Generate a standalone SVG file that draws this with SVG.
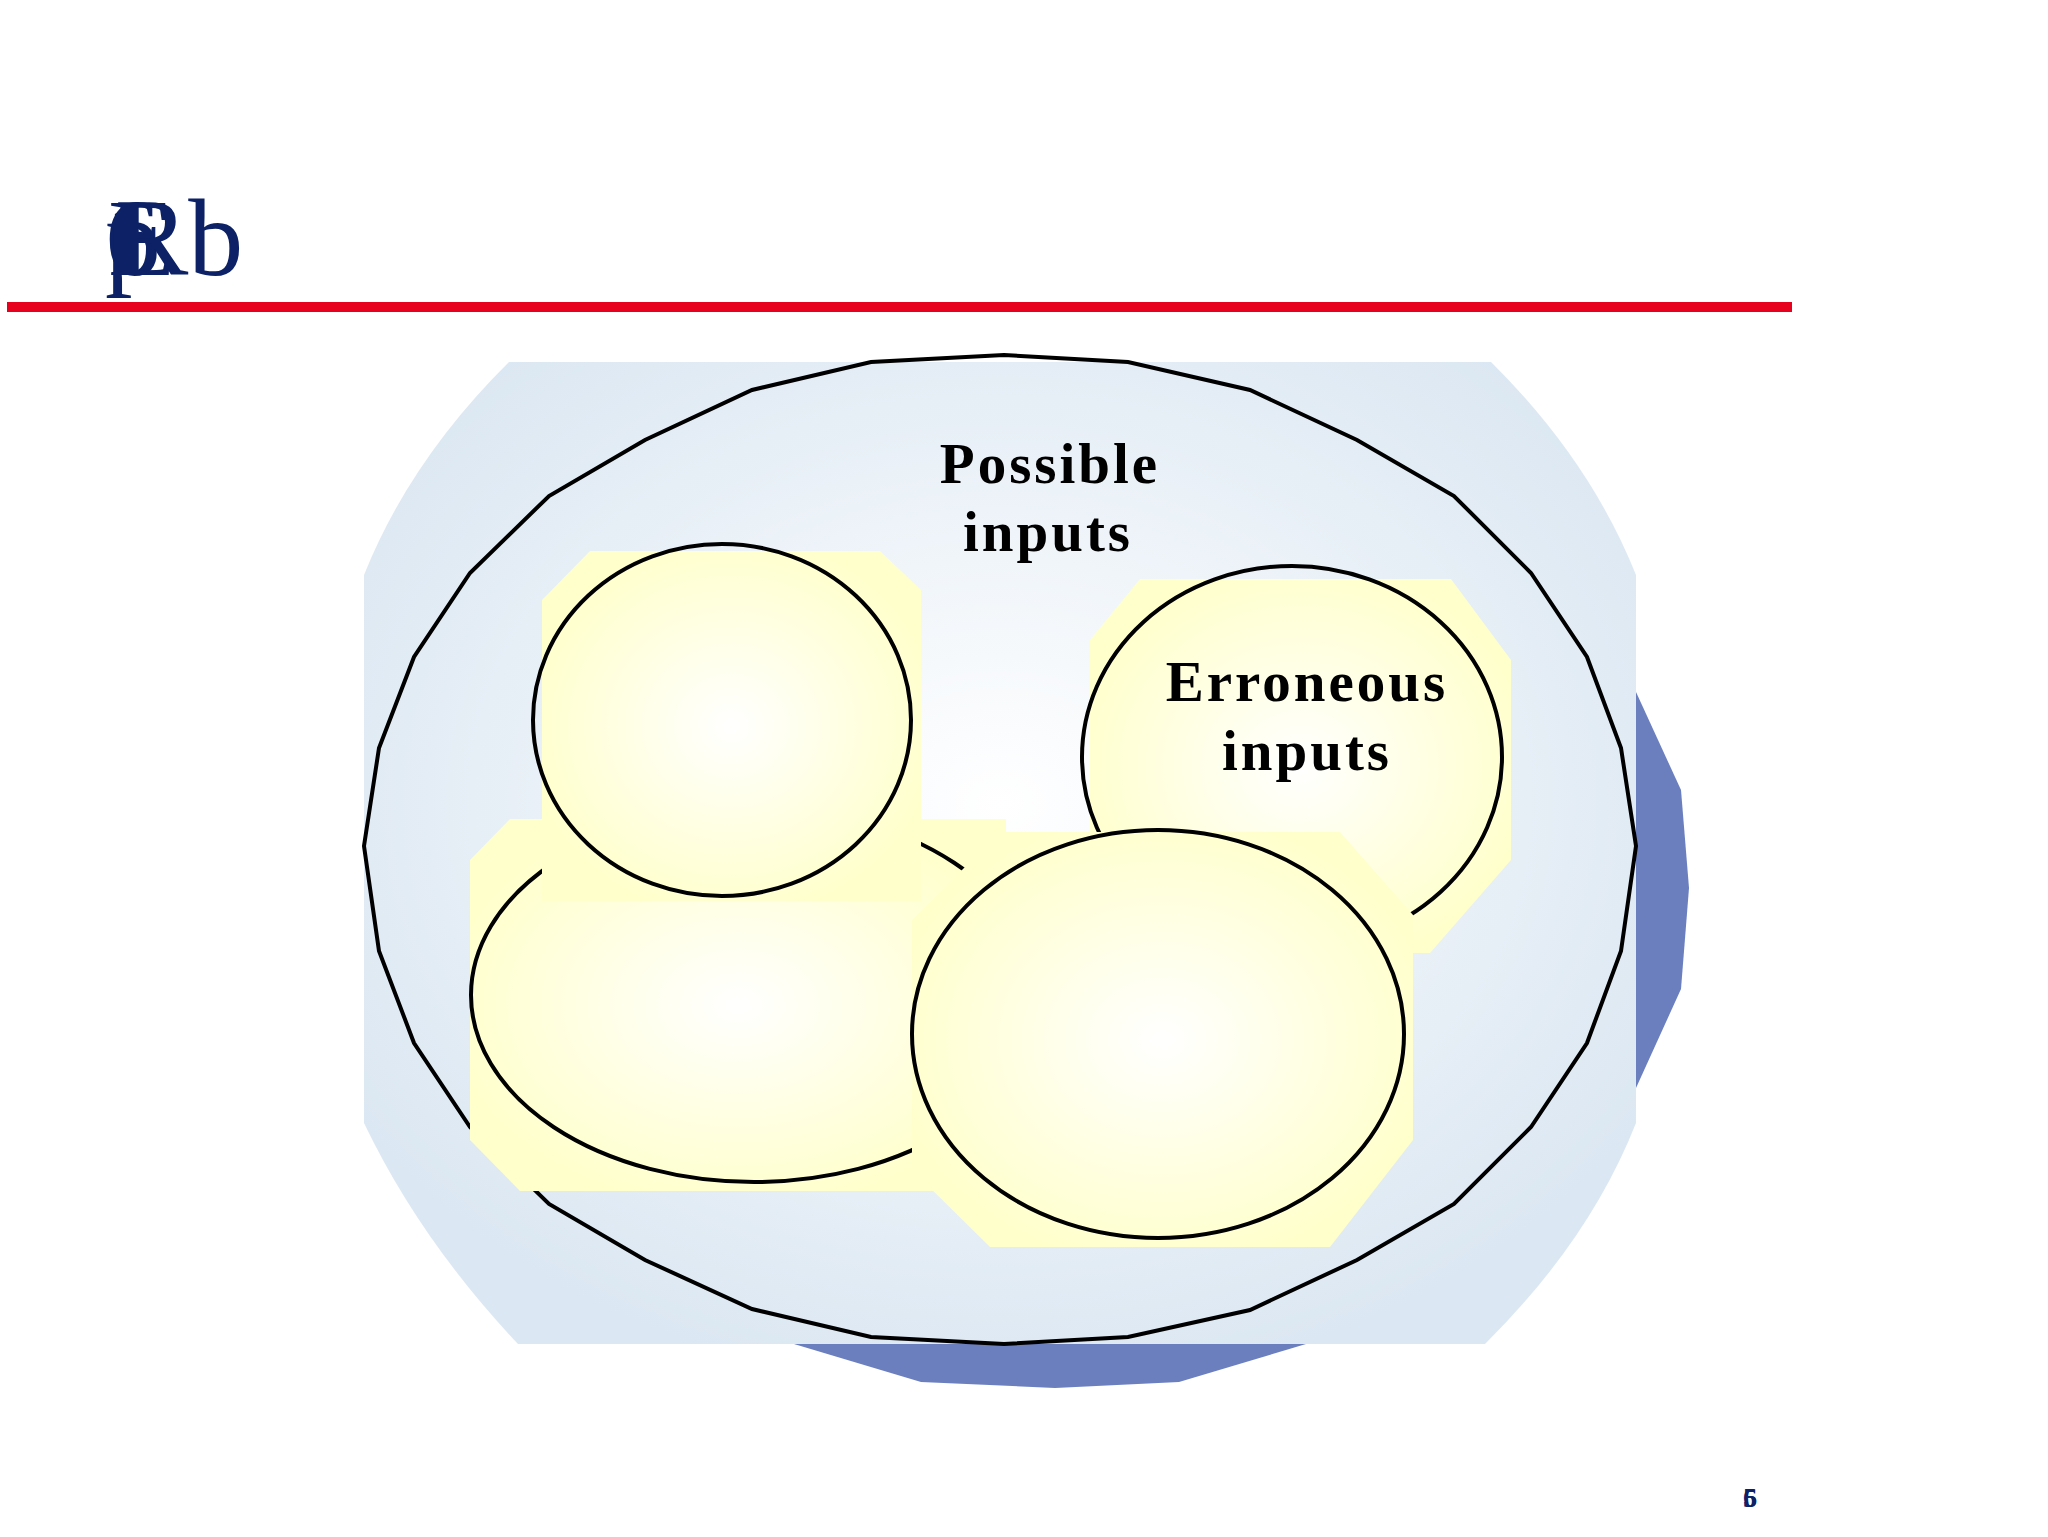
<svg xmlns="http://www.w3.org/2000/svg" width="2048" height="1537" viewBox="0 0 2048 1537">
<defs>
<radialGradient id="gb" cx="50%" cy="45%" r="60%"><stop offset="0" stop-color="#ffffff"/><stop offset="1" stop-color="#dbe7f2"/></radialGradient>
<radialGradient id="gy" cx="50%" cy="50%" r="55%"><stop offset="0" stop-color="#ffffff"/><stop offset="1" stop-color="#ffffcc"/></radialGradient>
<style>.o{fill:none;stroke:#000;stroke-width:4}.y{fill:url(#gy)}.t{font-family:"Liberation Serif",serif;font-weight:bold;font-size:57px;letter-spacing:3px;text-anchor:middle;fill:#000}.h{font-family:"Liberation Serif",serif;font-size:110px;fill:#0d2266}</style>
</defs>
<rect width="2048" height="1537" fill="#fff"/>
<g id="title"><text class="h" x="105" y="275">1</text><text class="h" x="105" y="275">6</text><text class="h" x="105" y="275">p</text><text class="h" x="108" y="275">E</text><text class="h" x="115" y="275">Rb</text></g>
<rect x="7" y="302" width="1785" height="10" fill="#e8001f"/>
<g id="possible">
<polygon points="794,1344 921,1382 1055,1388 1179,1382 1306,1344 1636,1088 1681,989 1689,888 1681,790 1636,692 1400,500 800,500" fill="#6b7fbf"/>
<path d="M509,362 H1491 Q1590,460 1636,575 V1123 Q1590,1240 1485,1344 H518 Q420,1240 364,1123 V575 Q410,460 509,362 Z" fill="url(#gb)"/>
<polygon class="o" points="1004,355 1128,362 1250,390 1357,440 1454,496 1531,573 1587,657 1621,748 1636,846 1621,951 1587,1043 1531,1127 1454,1204 1357,1260 1250,1310 1128,1337 1004,1344 871,1337 752,1309 645,1260 549,1204 470,1127 414,1043 379,951 364,846 379,748 414,657 470,573 549,496 645,440 752,390 871,362"/>
<text class="t" x="1050" y="483">Possible</text><text class="t" x="1048" y="551">inputs</text>
</g>
<g id="b"><path class="y" d="M470,860 L510,819 H1006 V1191 H520 L470,1140 Z"/><ellipse class="o" cx="754" cy="995" rx="283" ry="187"/></g>
<g id="a"><path class="y" d="M542,600 L590,551 H880 L921,590 V901 H542 Z"/><ellipse class="o" cx="722" cy="720" rx="189" ry="176"/></g>
<g id="c"><path class="y" d="M1090,640 L1140,579 H1451 L1511,660 V860 L1430,953 H1090 Z"/><ellipse class="o" cx="1292" cy="757" rx="210" ry="191"/>
<text class="t" x="1307" y="701">Erroneous</text><text class="t" x="1307" y="770">inputs</text></g>
<g id="d"><path class="y" d="M912,920 L1000,832 H1340 L1413,915 V1140 L1330,1247 H990 L912,1170 Z"/><ellipse class="o" cx="1158" cy="1034" rx="246" ry="204"/></g>
<g id="page"><text x="1750" y="1507" font-family="Liberation Serif,serif" font-weight="bold" font-size="28" fill="#0d2266" text-anchor="middle">6</text><text x="1750" y="1507" font-family="Liberation Serif,serif" font-weight="bold" font-size="28" fill="#0d2266" text-anchor="middle">5</text></g>
</svg>
